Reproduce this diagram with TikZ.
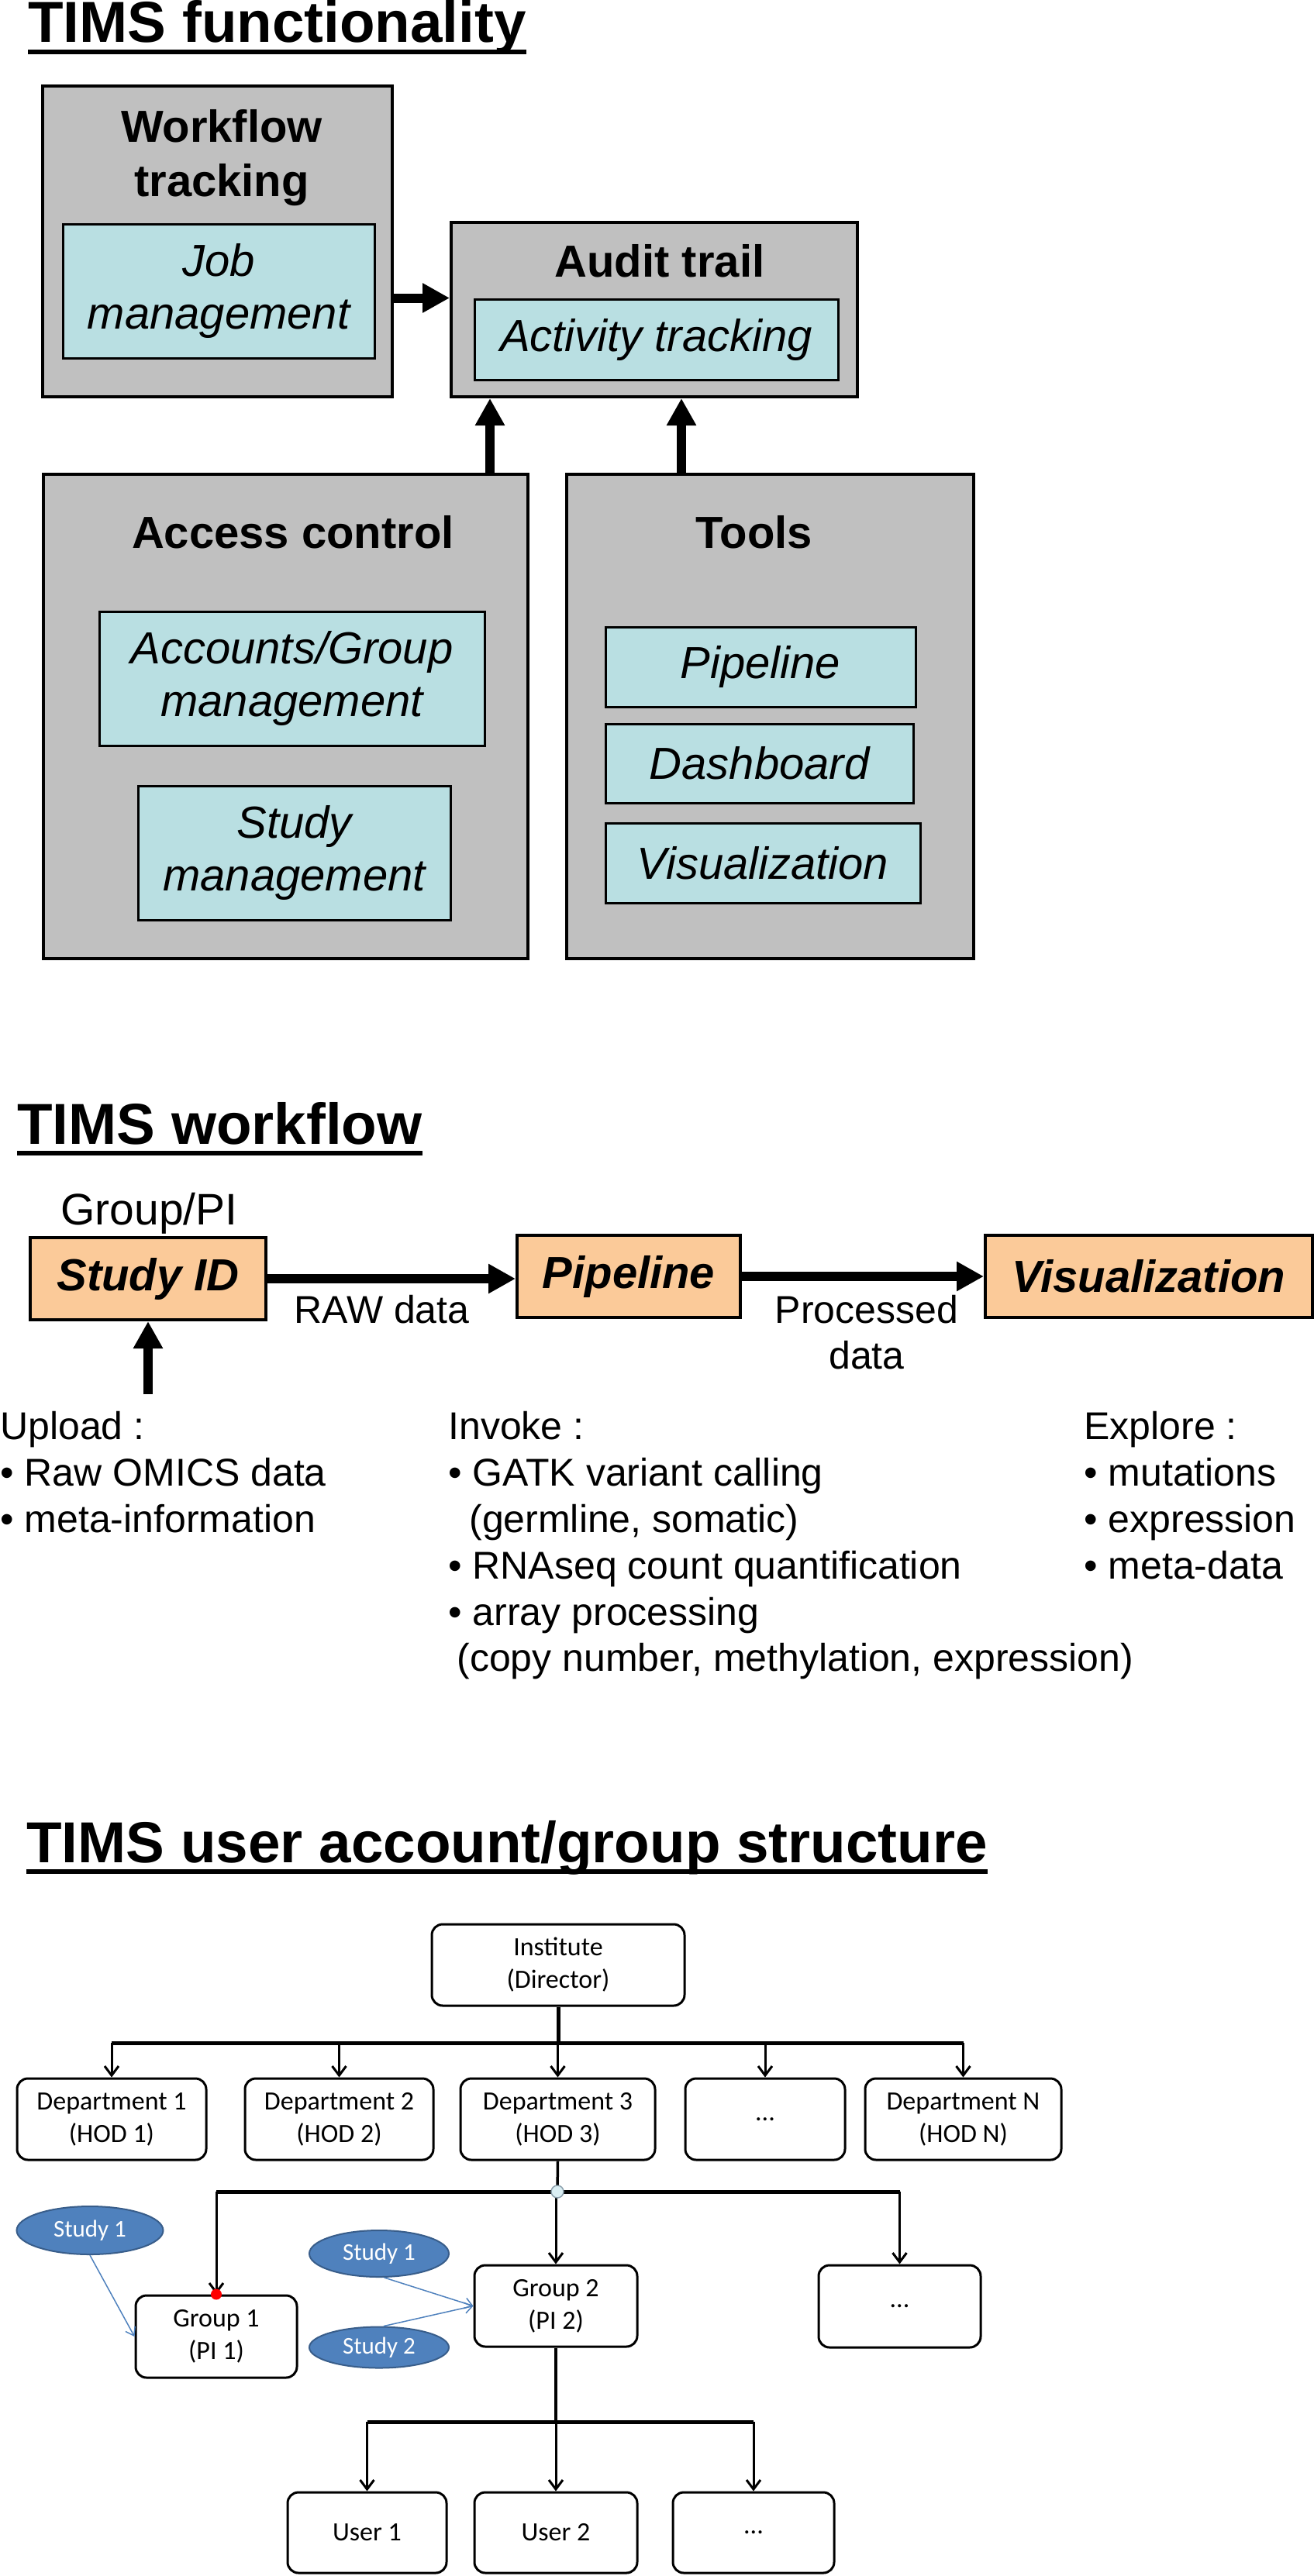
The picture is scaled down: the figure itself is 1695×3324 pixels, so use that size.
\documentclass[tikz,border=0pt]{standalone}
\usepackage{fontspec}
\setmainfont{Liberation Sans}
\newfontfamily\orgfont{Carlito}
\usetikzlibrary{arrows.meta,shapes.geometric}
\definecolor{boxgray}{RGB}{192,192,192}
\definecolor{boxcyan}{RGB}{185,223,226}
\definecolor{boxpeach}{RGB}{251,202,153}
\definecolor{studyblue}{RGB}{79,129,189}
\definecolor{studyedge}{RGB}{56,93,138}
\definecolor{dotcyan}{RGB}{218,238,243}
\definecolor{dotedge}{RGB}{140,160,172}
\begin{document}
\begin{tikzpicture}[x=0.5pt,y=0.5pt,yscale=-1,
  sectitle/.style={inner sep=0pt,anchor=base west,font=\fontsize{37.3}{44}\selectfont\bfseries},
  uline/.style={line width=3.25pt},
  grbox/.style={draw,line width=2pt,fill=boxgray,inner sep=0pt},
  boxhead/.style={inner sep=0pt,anchor=base,font=\fontsize{29}{34.5}\selectfont\bfseries},
  cybox/.style={draw,line width=1.5pt,fill=boxcyan,inner sep=0pt,align=center,font=\fontsize{29}{34}\selectfont\itshape},
  orbox/.style={draw,line width=2pt,fill=boxpeach,inner sep=0pt,minimum height=53pt,font=\fontsize{29}{34}\selectfont\bfseries\itshape},
  bigarrow/.style={line width=6pt,-{Triangle[length=17.5pt,width=18pt]}},
  wtext/.style={inner sep=0pt,anchor=base west,font=\fontsize{25}{30}\selectfont},
  orgbox/.style={draw,line width=1.5pt,rounded corners=7pt,fill=white,inner sep=0pt,align=center,minimum height=52.5pt,font=\orgfont\fontsize{17}{21}\selectfont},
  orgline/.style={line width=2.5pt},
  orgstem/.style={line width=1.75pt},
  orgarrow/.style={line width=1.5pt,-{Straight Barb[length=6pt,width=9pt]}},
  study/.style={ellipse,draw=studyedge,line width=1pt,fill=studyblue,text=white,inner sep=0pt,font=\orgfont\fontsize{15.5}{18}\selectfont},
  studyarrow/.style={draw=studyblue,line width=0.75pt,-{Straight Barb[length=5pt,width=7pt]}}]
\useasboundingbox (0,0) rectangle (1695,3324);

% TIMS functionality
\node[sectitle] (t1) at (36,55) {TIMS functionality};
\draw[uline] ([yshift=6pt]t1.base west) -- ([yshift=6pt]t1.base east);

%Shape: Rectangle
\node[grbox, minimum width=225.5pt, minimum height=200.5pt] (wf) at (280.5,311.5) {};
\node[grbox, minimum width=262pt, minimum height=112.5pt] (aud) at (844,399.5) {};
\node[grbox, minimum width=312.5pt, minimum height=312.5pt] (acc) at (368.5,924.5) {};
\node[grbox, minimum width=262.5pt, minimum height=312.5pt] (tools) at (993.5,924.5) {};

% Text Node
\node[boxhead] (wft1) at (286,184) {Workflow};
\node[boxhead] (wft2) at (286,253) {tracking};
\node[boxhead] (audt) at (851,357) {Audit trail};
\node[boxhead] (acct) at (378,707) {Access control};
\node[boxhead] (toolst) at (973,707) {Tools};

\node[cybox, minimum width=201pt, minimum height=86.5pt] (job) at (282,375.5) {Job\\management};
\node[cybox, minimum width=234.5pt, minimum height=52pt] (act) at (846.5,438) {Activity tracking};
\node[cybox, minimum width=248.5pt, minimum height=86.5pt] (accg) at (376.5,875.5) {Accounts/Group\\management};
\node[cybox, minimum width=201.5pt, minimum height=86.5pt] (stm) at (379.5,1100.5) {Study\\management};
\node[cybox, minimum width=200pt, minimum height=51.5pt] (tpip) at (981,860.5) {Pipeline};
\node[cybox, minimum width=198.5pt, minimum height=51pt] (tdash) at (979.5,985) {Dashboard};
\node[cybox, minimum width=203pt, minimum height=51.5pt] (tvis) at (984,1113.5) {Visualization};

\draw[bigarrow] (wf.east |- act.north) -- (aud.west |- act.north);
\draw[bigarrow] ([xshift=-25.5pt]acc.north east) -- ([xshift=-25.5pt]acc.north east |- aud.south);
\draw[bigarrow] ([xshift=75pt]tools.north west) -- ([xshift=75pt]tools.north west |- aud.south);

% TIMS workflow
\node[sectitle] (t2) at (22,1476) {TIMS workflow};
\draw[uline] ([yshift=6pt]t2.base west) -- ([yshift=6pt]t2.base east);

\node[inner sep=0pt, anchor=base west, font=\fontsize{28.5}{34}\selectfont] (gpi) at (78,1580) {Group/PI};
\node[orbox, minimum width=152pt] (sid) at (191,1650) {Study ID};
\node[orbox, minimum width=144pt] (pip) at (811,1647) {Pipeline};
\node[orbox, minimum width=211pt] (vis) at (1482,1646.5) {Visualization};

\coordinate (upl) at (191,1799);
\draw[bigarrow] (sid.east) -- (sid.east -| pip.west);
\draw[bigarrow] (pip.east) -- (pip.east -| vis.west);
\draw[bigarrow] (upl) -- (sid.south);

\node[wtext] (raw) at (379,1707) {RAW data};
\node[wtext, anchor=base] (proc1) at (1118,1707) {Processed};
\node[wtext, anchor=base] (proc2) at (1118,1766) {data};

% Text Node
\node[wtext] (up0) at (0,1857) {Upload :};
\node[wtext] (up1) at (0,1917) {• Raw OMICS data};
\node[wtext] (up2) at (0,1977) {• meta-information};
\node[wtext] (inv0) at (578,1857) {Invoke :};
\node[wtext] (inv1) at (578,1917) {• GATK variant calling};
\node[wtext] (inv2) at (605,1977) {(germline, somatic)};
\node[wtext] (inv3) at (578,2037) {• RNAseq count quantification};
\node[wtext] (inv4) at (578,2097) {• array processing};
\node[wtext] (inv5) at (589,2156) {(copy number, methylation, expression)};
\node[wtext] (exp0) at (1398,1857) {Explore :};
\node[wtext] (exp1) at (1398,1917) {• mutations};
\node[wtext] (exp2) at (1398,1977) {• expression};
\node[wtext] (exp3) at (1398,2037) {• meta-data};

% TIMS user account/group structure
\node[sectitle] (t3) at (34,2403) {TIMS user account/group structure};
\draw[uline] ([yshift=6pt]t3.base west) -- ([yshift=6pt]t3.base east);

\node[orgbox, minimum width=163pt] (inst) at (720,2535.5) {Institute\\(Director)};
\node[orgbox, minimum width=122pt] (d1) at (144,2734.5) {Department 1\\(HOD 1)};
\node[orgbox, minimum width=121.5pt] (d2) at (437.5,2734.5) {Department 2\\(HOD 2)};
\node[orgbox, minimum width=125.5pt] (d3) at (719.5,2734.5) {Department 3\\(HOD 3)};
\node[orgbox, minimum width=103pt] (dd) at (987,2734.5) {...};
\node[orgbox, minimum width=126.5pt] (dn) at (1242.5,2734.5) {Department N\\(HOD N)};
\node[orgbox, minimum width=104pt, minimum height=53pt] (g1) at (279,3015) {Group 1\\(PI 1)};
\node[orgbox, minimum width=105pt] (g2) at (717,2975.5) {Group 2\\(PI 2)};
\node[orgbox, minimum width=104.5pt, minimum height=53pt] (gd) at (1160.5,2976) {...};
\node[orgbox, minimum width=102.5pt, minimum height=52pt] (u1) at (473.5,3268) {User 1};
\node[orgbox, minimum width=105pt, minimum height=52pt] (u2) at (717,3268) {User 2};
\node[orgbox, minimum width=104pt, minimum height=52pt] (ud) at (972,3268) {...};

\coordinate (bus1) at (720,2636);
\coordinate (bus2) at (719,2828);
\coordinate (bus3) at (717,3125);

\draw[orgline] (inst.south) -- (bus1);
\draw[orgline] (d1.north |- bus1) -- (dn.north |- bus1);
\draw[orgarrow] (d1.north |- bus1) -- (d1.north);
\draw[orgarrow] (d2.north |- bus1) -- (d2.north);
\draw[orgarrow] (d3.north |- bus1) -- (d3.north);
\draw[orgarrow] (dd.north |- bus1) -- (dd.north);
\draw[orgarrow] (dn.north |- bus1) -- (dn.north);

\draw[orgstem] (d3.south) -- (bus2);
\draw[orgline] (g1.north |- bus2) -- (gd.north |- bus2);
\draw[orgarrow] (g1.north |- bus2) -- (g1.north);
\draw[orgarrow] (g2.north |- bus2) -- (g2.north);
\draw[orgarrow] (gd.north |- bus2) -- (gd.north);
\node[circle, draw=dotedge, fill=dotcyan, line width=0.75pt, minimum size=8pt, inner sep=0pt] (jn) at (bus2) {};
\node[circle, fill=red, minimum size=7pt, inner sep=0pt] (rd) at (g1.north) {};

\draw[orgstem] (g2.south) -- (bus3);
\draw[orgline] (u1.north |- bus3) -- (ud.north |- bus3);
\draw[orgarrow] (u1.north |- bus3) -- (u1.north);
\draw[orgarrow] (u2.north |- bus3) -- (u2.north);
\draw[orgarrow] (ud.north |- bus3) -- (ud.north);

%Shape: Ellipse
\node[study, minimum width=94.5pt, minimum height=31pt] (st1a) at (116,2878) {Study 1};
\node[study, minimum width=90pt, minimum height=30pt] (st1b) at (489,2908) {Study 1};
\node[study, minimum width=90pt, minimum height=26.5pt] (st2) at (489,3029) {Study 2};
\draw[studyarrow] (st1a.south) -- (g1.west);
\draw[studyarrow] (st1b.-78) -- (g2.west);
\draw[studyarrow] (st2.78) -- (g2.west);

\end{tikzpicture}
\end{document}
